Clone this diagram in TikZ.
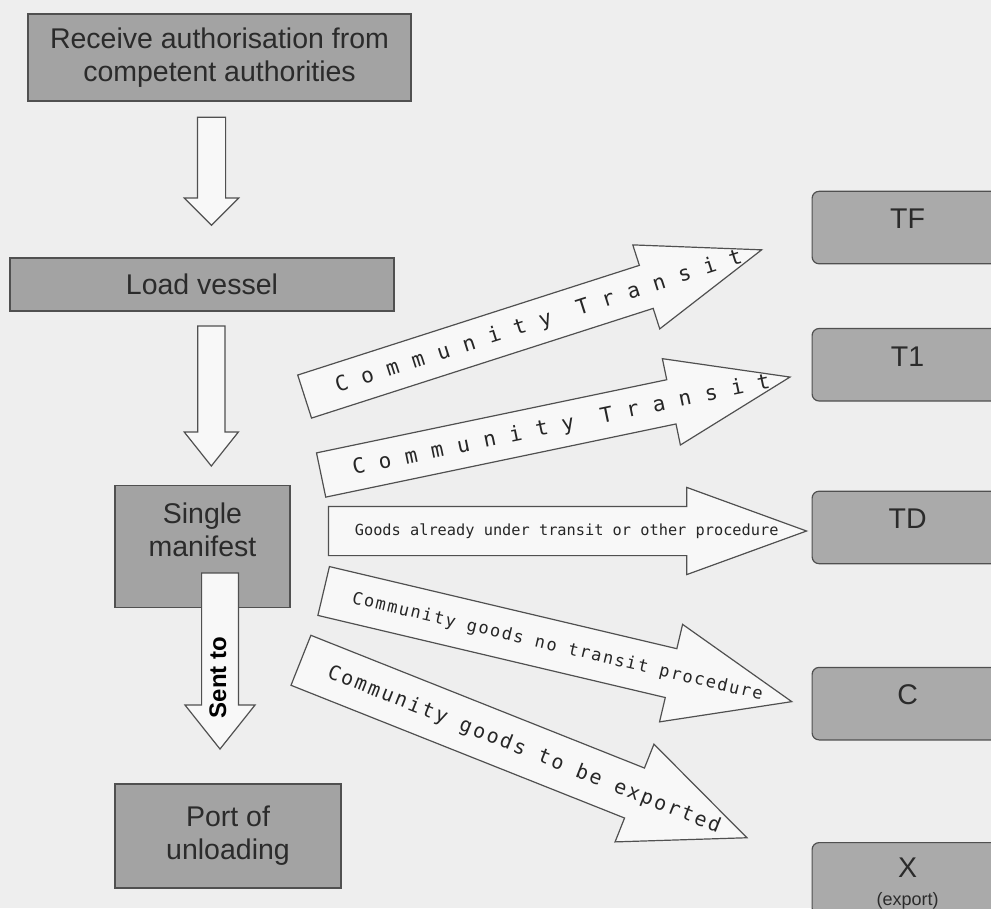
\documentclass[tikz,border=0pt]{standalone}
\usepackage{fontspec}
\setmainfont{Liberation Sans}
\newfontfamily\arrowfont{DejaVu Sans Mono}
\usepackage{tikz}
\usetikzlibrary{positioning}
\usetikzlibrary{shapes.arrows}
\definecolor{paper}{HTML}{EEEEEE}
\definecolor{boxgray}{HTML}{A3A3A3}
\definecolor{edgegray}{HTML}{505050}
\definecolor{inkgray}{HTML}{2B2B2B}
\definecolor{arrowfill}{HTML}{F8F8F8}
\newcommand\spaced[2]{\fontsize{#1}{#1}\arrowfont\addfontfeature{LetterSpace=#2}}
\tikzset{
    block/.style={
           rectangle,
           draw=edgegray, line width=1.2pt,
           fill=boxgray,
           text=inkgray,
           font=\fontsize{28.5}{33}\selectfont,
           align=center,
           inner sep=0pt,
           },
    target/.style={
           block,
           fill=boxgray!92!white,
           rounded corners=7pt,
           minimum width=191pt,
           text height=37.5pt,
           text depth=35pt,
           },
    hollow/.style={
           single arrow,
           draw=edgegray, line width=1.2pt,
           fill=arrowfill,
           single arrow head indent=0pt,
           inner sep=0pt,
           anchor=tip,
           },
    fatarrow/.style={
           hollow,
           text=black!85,
           },
}
\begin{document}
\begin{tikzpicture}[x=1pt,y=1pt]
	\fill[paper] (0,0) rectangle (991,-908);
	\useasboundingbox (0,0) rectangle (991,-908);

	% left column
	\node[block, minimum width=383pt, minimum height=87pt] (recv) at (219.5,-57.5)
		{Receive authorisation from\\competent authorities};
	\node[block, minimum width=384pt, minimum height=53pt] (load) at (202,-284.5)
		{Load vessel};
	\node[block, minimum width=175pt, anchor=north, text height=71pt, text depth=51pt] (manifest) at (202.5,-485)
		{Single\\manifest};
	\node[block, minimum width=226pt, minimum height=104pt] (port) at (228,-836)
		{Port of\\unloading};

	\node[hollow, rotate=-90, minimum height=108pt, text height=27pt, text depth=0pt,
		single arrow head extend=13pt, single arrow tip angle=90] (down1) at (211.5,-226) {};
	\node[hollow, rotate=-90, minimum height=140pt, text height=26pt, text depth=0pt,
		single arrow head extend=13.5pt, single arrow tip angle=77] (down2) at (211.3,-467) {};
	\node[hollow, rotate=90, shape border rotate=180, minimum height=176pt,
		text height=23.9pt, text depth=11.7pt,
		single arrow head extend=16.7pt, single arrow tip angle=77,
		font=\bfseries\fontsize{24}{24}\selectfont] (sentto) at (220,-750) {Sent to\hspace*{56pt}};

	% right column
	\node[target, anchor=north west] (tf) at (811.5,-190.7) {TF};
	\node[target, below=63.5pt of tf] (t1) {T1};
	\node[target, below=89pt of t1] (td) {TD};
	\node[target, below=102.5pt of td] (cbox) {C};
	\node[target, below=101.5pt of cbox, text height=63pt, text depth=9.5pt] (xbox)
		{X\\[-5pt]{\fontsize{18}{20}\selectfont (export)}};

	% procedures
	\node[fatarrow, rotate=17.8, minimum height=480pt, text height=28.7pt, text depth=15.3pt,
		single arrow head extend=21.5pt, single arrow tip angle=40,
		font={\spaced{21}{67}}] (totf) at (763.3,-249.3) {Community Transit\hspace*{-73.6pt}};
	\node[fatarrow, rotate=11.8, minimum height=479pt, text height=28.7pt, text depth=15.3pt,
		single arrow head extend=21.5pt, single arrow tip angle=40,
		font={\spaced{21}{67}}] (tot1) at (791.7,-376.7) {Community Transit\hspace*{-73.6pt}};
	\node[fatarrow, minimum height=478pt, text height=28.9pt, text depth=19.1pt,
		single arrow head extend=19pt, single arrow tip angle=40,
		font={\spaced{15.3}{0}}] (totd) at (808.3,-531) {Goods already under transit or other procedure\hspace*{-65.9pt}};
	\node[fatarrow, rotate=-13.3, minimum height=481pt, text height=29.9pt, text depth=19.1pt,
		single arrow head extend=25pt, single arrow tip angle=44,
		font={\spaced{17}{10}}] (toc) at (793.3,-702) {Community goods no transit procedure\hspace*{-62pt}};
	\node[fatarrow, rotate=-21.7, minimum height=480pt, text height=32.7pt, text depth=19.9pt,
		single arrow head extend=25.7pt, single arrow tip angle=47,
		font={\spaced{20}{12}}] (tox) at (748.3,-838.3) {Community goods to be exported\hspace*{-62.7pt}};
\end{tikzpicture}
\end{document}
